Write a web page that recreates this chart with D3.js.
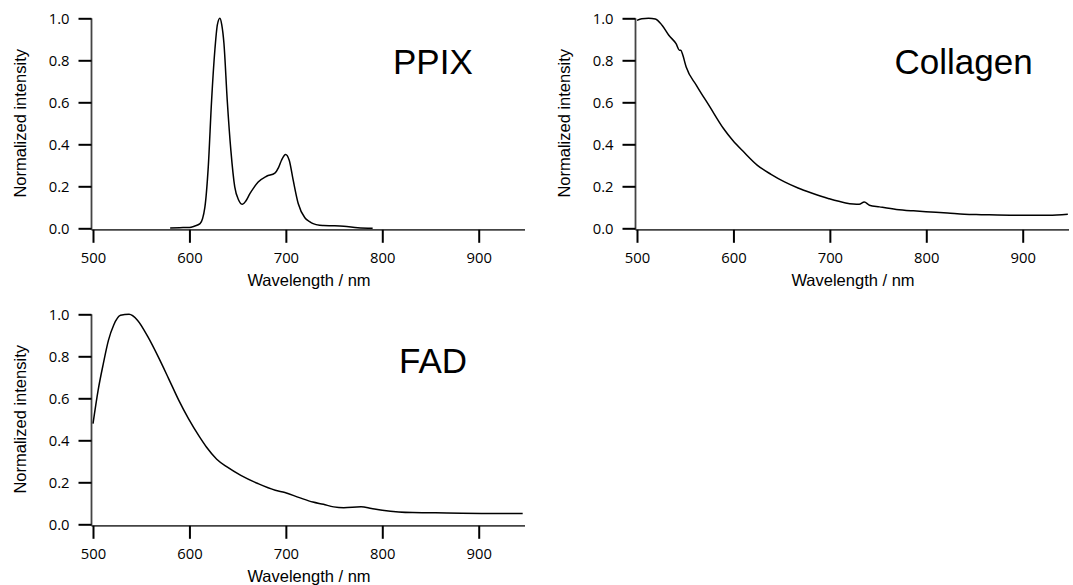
<!DOCTYPE html>
<html>
<head>
<meta charset="utf-8">
<script src="https://cdn.jsdelivr.net/npm/d3@7.9.0/dist/d3.min.js"></script>
<style>
  html, body { margin: 0; padding: 0; background: #fff; }
  .tick text { font-family: "Open Sans", sans-serif; font-size: 14.8px; fill: #000; }
  .tick line { stroke: #000; stroke-width: 2; }
  .axis-line { stroke: #444; stroke-width: 1.8; }
  .title { font-family: "Liberation Sans", Arial, sans-serif; font-size: 16.5px; fill: #000; }
  .name { font-family: "Liberation Sans", Arial, sans-serif; font-size: 35px; fill: #000; }
  .trace { fill: none; stroke: #000; stroke-width: 1.5; stroke-linejoin: round; }
</style>
</head>
<body>
<svg id="chart" width="1073" height="585"></svg>
<script>
// ---- data (wavelength nm, normalized intensity) ----
const xTicks = [500, 600, 700, 800, 900];
const yTicks = [0, 0.2, 0.4, 0.6, 0.8, 1.0];

const ppixWl  = [580, 590, 600, 605, 611, 616, 619.5, 623, 626.4, 629, 631.6, 633.5, 635.8, 639.2, 643, 647, 651, 655, 658.5, 662.7, 667, 671.3, 680, 688.6, 692.5, 695.5, 699.7, 703.5, 707.6, 712.8, 719.7, 724.6, 728.3, 735, 739, 750, 760, 774.6, 790];
const ppixVal = [0.002, 0.003, 0.004, 0.01, 0.022, 0.10, 0.29, 0.61, 0.85, 0.97, 1.0, 0.97, 0.88, 0.61, 0.37, 0.197, 0.135, 0.114, 0.13, 0.165, 0.195, 0.22, 0.248, 0.263, 0.29, 0.324, 0.352, 0.324, 0.229, 0.118, 0.05, 0.032, 0.022, 0.014, 0.013, 0.012, 0.01, 0.003, 0.0];

const collWl  = [500, 505, 512, 519, 526, 533, 540.5, 544, 545.5, 547, 551, 561.6, 575.6, 589.7, 599.2, 610.8, 624.9, 639, 653, 667, 681, 699, 716.4, 730.4, 735.7, 741, 751.5, 769, 786.7, 799.7, 822, 839.5, 857, 892, 927, 946.8];
const collVal = [0.99, 0.998, 1.0, 0.997, 0.967, 0.919, 0.879, 0.848, 0.848, 0.832, 0.768, 0.681, 0.578, 0.475, 0.419, 0.363, 0.30, 0.257, 0.221, 0.192, 0.168, 0.141, 0.121, 0.114, 0.125, 0.11, 0.102, 0.09, 0.083, 0.079, 0.073, 0.067, 0.065, 0.062, 0.062, 0.067];

const fadWl  = [500, 505.3, 510.7, 516, 521.4, 528.5, 537.4, 546.3, 557, 567.7, 578.4, 589, 599, 610.5, 617.6, 628.3, 639, 653.3, 671, 689, 699, 714, 728, 739, 749.6, 760, 778, 788.8, 800, 817, 831.6, 867, 903, 945.6];
const fadVal = [0.479, 0.638, 0.765, 0.876, 0.948, 0.995, 1.0, 0.971, 0.892, 0.797, 0.694, 0.59, 0.503, 0.416, 0.368, 0.31, 0.273, 0.233, 0.194, 0.162, 0.151, 0.127, 0.106, 0.095, 0.083, 0.079, 0.083, 0.075, 0.067, 0.059, 0.056, 0.054, 0.052, 0.051];

const xMax = 948;

// panel layout: left edge of x scale, top of y scale, label position
const panels = [
  { name: 'PPIX',     wl: ppixWl, val: ppixVal, left: 93,  top: 18.3,  labelX: 393,   labelY: 74 },
  { name: 'Collagen', wl: collWl, val: collVal, left: 637, top: 18.3,  labelX: 894.5, labelY: 74 },
  { name: 'FAD',      wl: fadWl,  val: fadVal,  left: 93,  top: 314.3, labelX: 399,   labelY: 373 }
];
const plotW = 432, plotH = 210;

const svg = d3.select('#chart');

function drawPanel(p) {
  const x = d3.scaleLinear().domain([500, xMax]).range([p.left, p.left + plotW]);
  const y = d3.scaleLinear().domain([0, 1]).range([p.top + plotH, p.top]);
  const axisY = y(0) + 1.5;   // x axis sits just under zero
  const axisX = x(500) - 1.5; // y axis sits just left of 500

  const g = svg.append('g');

  // axis lines
  g.append('line').attr('class', 'axis-line')
    .attr('x1', axisX).attr('x2', x(xMax)).attr('y1', axisY).attr('y2', axisY);
  g.append('line').attr('class', 'axis-line')
    .attr('x1', axisX).attr('x2', axisX).attr('y1', y(1)).attr('y2', axisY);

  // ticks
  g.append('g').attr('transform', `translate(0,${axisY})`)
    .call(d3.axisBottom(x).tickValues(xTicks).tickSize(13).tickPadding(10).tickFormat(d3.format('d')))
    .call(s => s.select('.domain').remove());
  g.append('g').attr('transform', `translate(${axisX},0)`)
    .call(d3.axisLeft(y).tickValues(yTicks).tickSize(13).tickPadding(9).tickFormat(d3.format('.1f')))
    .call(s => s.select('.domain').remove());

  // trace
  const pts = p.wl.map((w, i) => [w, p.val[i]]);
  const line = d3.line().x(d => x(d[0])).y(d => y(d[1])).curve(d3.curveMonotoneX);
  g.append('path').attr('class', 'trace').attr('d', line(pts));

  // titles
  g.append('text').attr('class', 'title')
    .attr('x', (x(500) + x(xMax)) / 2).attr('y', axisY + 56.5)
    .attr('text-anchor', 'middle').text('Wavelength / nm');
  g.append('text').attr('class', 'title')
    .attr('transform', `translate(${axisX - 66},${(y(0) + y(1)) / 2}) rotate(-90)`)
    .attr('text-anchor', 'middle').text('Normalized intensity');

  g.append('text').attr('class', 'name')
    .attr('x', p.labelX).attr('y', p.labelY).text(p.name);
}

panels.forEach(drawPanel);
</script>
</body>
</html>
